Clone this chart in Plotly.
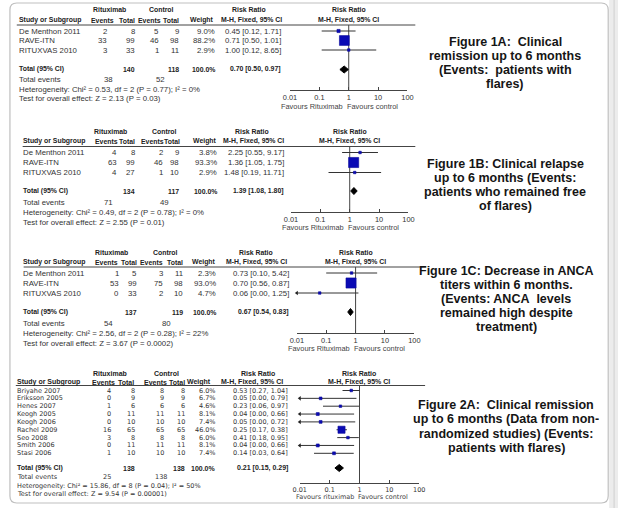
import plotly.graph_objects as go

W, H = 624, 508
FONT = "Liberation Sans, Arial, sans-serif"
FONT2 = "DejaVu Sans, Verdana, sans-serif"

# ---------------- data ----------------
p1a_studies = ["De Menthon 2011", "RAVE-ITN", "RITUXVAS 2010"]
p1a_ev_rtx = [2, 33, 3]
p1a_tot_rtx = [8, 99, 33]
p1a_ev_ctl = [5, 46, 1]
p1a_tot_ctl = [9, 98, 11]
p1a_weight = [9.0, 88.2, 2.9]
p1a_rr = [0.45, 0.71, 1.00]
p1a_lo = [0.12, 0.50, 0.12]
p1a_hi = [1.71, 1.01, 8.65]
p1a_total_n = [140, 118]
p1a_total_rr = [0.70, 0.50, 0.97]
p1a_total_events = [38, 52]
p1a_het = "Heterogeneity: Chi² = 0.53, df = 2 (P = 0.77); I² = 0%"
p1a_test = "Test for overall effect: Z = 2.13 (P = 0.03)"

p1b_studies = ["De Menthon 2011", "RAVE-ITN", "RITUXVAS 2010"]
p1b_ev_rtx = [4, 63, 4]
p1b_tot_rtx = [8, 99, 27]
p1b_ev_ctl = [2, 46, 1]
p1b_tot_ctl = [9, 98, 10]
p1b_weight = [3.8, 93.3, 2.9]
p1b_rr = [2.25, 1.36, 1.48]
p1b_lo = [0.55, 1.05, 0.19]
p1b_hi = [9.17, 1.75, 11.71]
p1b_total_n = [134, 117]
p1b_total_rr = [1.39, 1.08, 1.80]
p1b_total_events = [71, 49]
p1b_het = "Heterogeneity: Chi² = 0.49, df = 2 (P = 0.78); I² = 0%"
p1b_test = "Test for overall effect: Z = 2.55 (P = 0.01)"

p1c_studies = ["De Menthon 2011", "RAVE-ITN", "RITUXVAS 2010"]
p1c_ev_rtx = [1, 53, 0]
p1c_tot_rtx = [5, 99, 33]
p1c_ev_ctl = [3, 75, 2]
p1c_tot_ctl = [11, 98, 10]
p1c_weight = [2.3, 93.0, 4.7]
p1c_rr = [0.73, 0.70, 0.06]
p1c_lo = [0.10, 0.56, 0.00]
p1c_hi = [5.42, 0.87, 1.25]
p1c_total_n = [137, 119]
p1c_total_rr = [0.67, 0.54, 0.83]
p1c_total_events = [54, 80]
p1c_het = "Heterogeneity: Chi² = 2.56, df = 2 (P = 0.28); I² = 22%"
p1c_test = "Test for overall effect: Z = 3.67 (P = 0.0002)"

p2a_studies = ["Briyahe 2007", "Eriksson 2005", "Henes 2007", "Keogh 2005", "Keogh 2006",
               "Rachel 2009", "Seo 2008", "Smith 2006", "Stasi 2006"]
p2a_ev_rtx = [4, 0, 1, 0, 0, 16, 3, 0, 1]
p2a_tot_rtx = [8, 9, 6, 11, 10, 65, 8, 11, 10]
p2a_ev_ctl = [8, 9, 6, 11, 10, 65, 8, 11, 10]
p2a_tot_ctl = [8, 9, 6, 11, 10, 65, 8, 11, 10]
p2a_weight = [6.0, 6.7, 4.6, 8.1, 7.4, 46.0, 6.0, 8.1, 7.4]
p2a_rr = [0.53, 0.05, 0.23, 0.04, 0.05, 0.25, 0.41, 0.04, 0.14]
p2a_lo = [0.27, 0.00, 0.06, 0.00, 0.00, 0.17, 0.18, 0.00, 0.03]
p2a_hi = [1.04, 0.79, 0.97, 0.66, 0.72, 0.38, 0.95, 0.66, 0.64]
p2a_total_n = [138, 138]
p2a_total_rr = [0.21, 0.15, 0.29]
p2a_total_events = [25, 138]
p2a_het = "Heterogeneity: Chi² = 15.86, df = 8 (P = 0.04); I² = 50%"
p2a_test = "Test for overall effect: Z = 9.54 (P = 0.00001)"

tick_vals = [0.01, 0.1, 1, 10, 100]
tick_text = ["0.01", "0.1", "1", "10", "100"]

cap_1a = ["Figure 1A:\u00a0 Clinical", "remission up to 6 months", "(Events:\u00a0 patients with", "flares)"]
cap_1b = ["Figure 1B: Clinical relapse", "up to 6 months (Events:", "patients who remained free", "of flares)"]
cap_1c = ["Figure 1C: Decrease in ANCA", "titers within 6 months.", "(Events: ANCA\u00a0 levels", "remained high despite", "treatment)"]
cap_2a = ["Figure 2A:\u00a0 Clinical remission", "up to 6 months (Data from non-", "randomized studies) (Events:", "patients with flares)"]

# ---------------- layout geometry (pixels) ----------------
panels = [
    dict(studies=p1a_studies, ev1=p1a_ev_rtx, t1=p1a_tot_rtx, ev2=p1a_ev_ctl, t2=p1a_tot_ctl,
         wt=p1a_weight, rr=p1a_rr, lo=p1a_lo, hi=p1a_hi, tn=p1a_total_n, trr=p1a_total_rr,
         tev=p1a_total_events, het=p1a_het, test=p1a_test, cap=cap_1a,
         fav="Favours Rituximab", font=FONT, fs=7.8, hfs=6.9,
         ax0=289, ax1=409, lx0=10, lx1=417, sx=12,
         hdr1=10, hdr2=20, ly=25, row0=31, step=9.5, tot=69.5, tevy=80, hety=89, testy=98,
         axy=90, favy=106.5, grp=[104.5, 158, 247], hcols=[109, 131, 157, 176, 211], hmh=250,
         cols=[102, 131, 155, 176, 212, 280], tevx=[108, 161],
         capx=509, capy=42, capdy=14.1),
    dict(studies=p1b_studies, ev1=p1b_ev_rtx, t1=p1b_tot_rtx, ev2=p1b_ev_ctl, t2=p1b_tot_ctl,
         wt=p1b_weight, rr=p1b_rr, lo=p1b_lo, hi=p1b_hi, tn=p1b_total_n, trr=p1b_total_rr,
         tev=p1b_total_events, het=p1b_het, test=p1b_test, cap=cap_1b,
         fav="Favours Rituximab", font=FONT, fs=7.8, hfs=6.9,
         ax0=290, ax1=410, lx0=16, lx1=417, sx=16.5,
         hdr1=131.5, hdr2=141.5, ly=146.5, row0=152.5, step=10, tot=191, tevy=202.5, hety=212.5,
         testy=222, axy=212, favy=227.5, grp=[106, 161, 250], hcols=[113, 131, 160, 177, 214], hmh=252,
         cols=[112.5, 130.5, 159, 176, 214, 283], tevx=[108, 165],
         capx=509, capy=163.5, capdy=14.3),
    dict(studies=p1c_studies, ev1=p1c_ev_rtx, t1=p1c_tot_rtx, ev2=p1c_ev_ctl, t2=p1c_tot_ctl,
         wt=p1c_weight, rr=p1c_rr, lo=p1c_lo, hi=p1c_hi, tn=p1c_total_n, trr=p1c_total_rr,
         tev=p1c_total_events, het=p1c_het, test=p1c_test, cap=cap_1c,
         fav="Favours Rituximab", font=FONT, fs=7.8, hfs=6.9,
         ax0=296, ax1=416, lx0=17, lx1=428, sx=16.5,
         hdr1=252, hdr2=262, ly=267, row0=273, step=10, tot=312, tevy=323, hety=333,
         testy=343, axy=333, favy=348.5, grp=[107, 162, 254.5], hcols=[113, 133, 159, 180, 213], hmh=255,
         cols=[114, 133, 159, 180, 213, 288], tevx=[108, 167],
         capx=510, capy=271, capdy=14),
    dict(studies=p2a_studies, ev1=p2a_ev_rtx, t1=p2a_tot_rtx, ev2=p2a_ev_ctl, t2=p2a_tot_ctl,
         wt=p2a_weight, rr=p2a_rr, lo=p2a_lo, hi=p2a_hi, tn=p2a_total_n, trr=p2a_total_rr,
         tev=p2a_total_events, het=p2a_het, test=p2a_test, cap=cap_2a,
         fav="Favours rituximab", font=FONT2, fs=6.5, hfs=7.0,
         ax0=299, ax1=421, lx0=9, lx1=427, sx=10,
         hdr1=373, hdr2=382, ly=385.5, row0=390.5, step=7.85, tot=468, tevy=477, hety=485.5,
         testy=493.5, axy=483, favy=496.5, grp=[105, 163, 256], hcols=[110, 130, 163, 182, 208], hmh=250,
         cols=[106, 131, 160, 182, 213, 287], tevx=[106, 163],
         capx=510, capy=405, capdy=14.3),
]

annotations = []
shapes = []
traces = []


def px(x):
    return x / W


def py(y):
    return 1 - y / H


def txt(x, y, s, anchor="left", size=7, bold=False, color="#333333", family=FONT):
    if bold:
        s = "<b>" + s + "</b>"
    annotations.append(dict(x=px(x), y=py(y), xref="paper", yref="paper", text=s,
                            showarrow=False, xanchor=anchor, yanchor="middle",
                            borderpad=0, borderwidth=0,
                            font=dict(size=size, color=color, family=family)))


def fmt_rr(r, l, h):
    return f"{r:.2f} [{l:.2f}, {h:.2f}]"


layout_axes = {}
for i, p in enumerate(panels):
    xa = "x" if i == 0 else f"x{i + 1}"
    axkey = "xaxis" if i == 0 else f"xaxis{i + 1}"
    fs, hfs = p["fs"], p["hfs"]
    fam = p["font"]
    layout_axes[axkey] = dict(
        type="log", range=[-2, 2], domain=[px(p["ax0"]), px(p["ax1"])],
        anchor="free", position=py(p["axy"]), showline=True, linecolor="#444444", linewidth=1,
        ticks="inside", ticklen=3, tickwidth=1, tickcolor="#444444",
        tickvals=tick_vals, ticktext=tick_text, showgrid=False, zeroline=False,
        tickfont=dict(size=min(fs, 7.4), color="#333333", family=fam), fixedrange=True)

    def t(x, y, s, anchor="left"):
        txt(x, y, s, anchor, fs, False, "#333333", fam)

    def hb(x, y, s, anchor="left"):
        txt(x, y, s, anchor, hfs, True, "#222222", FONT)

    # header texts
    for cx, lab in zip(p["grp"][:2], ["Rituximab", "Control"]):
        hb(cx, p["hdr1"], lab, "center")
    hb(p["grp"][2], p["hdr1"], "Risk Ratio", "center")
    fc = (p["ax0"] + p["ax1"]) / 2
    hb(fc, p["hdr1"], "Risk Ratio", "center")
    hb(p["sx"], p["hdr2"], "Study or Subgroup", "left")
    for cx, lab in zip(p["hcols"], ["Events", "Total", "Events", "Total", "Weight"]):
        hb(cx, p["hdr2"], lab, "right")
    hb(p["hmh"], p["hdr2"], "M-H, Fixed, 95% CI", "center")
    hb(fc, p["hdr2"], "M-H, Fixed, 95% CI", "center")
    shapes.append(dict(type="line", xref="paper", yref="paper", x0=px(p["lx0"]), x1=px(p["lx1"]),
                       y0=py(p["ly"]), y1=py(p["ly"]), line=dict(color="#444444", width=1)))

    # study rows
    rows = [p["row0"] + k * p["step"] for k in range(len(p["studies"]))]
    for k, yr in enumerate(rows):
        t(p["sx"], yr, p["studies"][k], "left")
        vals = [str(p["ev1"][k]), str(p["t1"][k]), str(p["ev2"][k]), str(p["t2"][k]),
                f"{p['wt'][k]:.1f}%", fmt_rr(p["rr"][k], p["lo"][k], p["hi"][k])]
        for cx, v in zip(p["cols"], vals):
            t(cx, yr, v, "right")

    # totals
    hb(p["sx"], p["tot"], "Total (95% CI)", "left")
    hb(p["cols"][1], p["tot"], str(p["tn"][0]), "right")
    hb(p["cols"][3], p["tot"], str(p["tn"][1]), "right")
    hb(p["cols"][4], p["tot"], "100.0%", "right")
    hb(p["cols"][5], p["tot"], fmt_rr(*p["trr"]), "right")
    t(p["sx"], p["tevy"], "Total events", "left")
    t(p["tevx"][0], p["tevy"], str(p["tev"][0]), "right")
    t(p["tevx"][1], p["tevy"], str(p["tev"][1]), "right")
    t(p["sx"], p["hety"], p["het"], "left")
    t(p["sx"], p["testy"], p["test"], "left")

    # favours labels
    gap = p["ax0"] + (p["ax1"] - p["ax0"]) / 2 - 4
    txt(gap - 2, p["favy"], p["fav"], "right", min(fs, 7.4), False, "#444444", fam)
    txt(gap + 2, p["favy"], "Favours control", "left", min(fs, 7.4), False, "#444444", fam)

    # caption
    for k, line in enumerate(p["cap"]):
        txt(p["capx"], p["capy"] + k * p["capdy"], line, "center", 12.5, True, "#151515", FONT)

    # ----- forest plot traces -----
    traces.append(go.Scatter(x=[1, 1], y=[p["ly"], p["axy"]], xaxis=xa, yaxis="y", mode="lines",
                             line=dict(color="#444444", width=1), hoverinfo="skip", showlegend=False,
                             cliponaxis=False))
    lx, ly_ = [], []
    left_arrows, right_arrows = [], []
    for k, yr in enumerate(rows):
        a = max(p["lo"][k], 0.01)
        b = min(p["hi"][k], 100)
        lx += [a, b, None]
        ly_ += [yr, yr, None]
        if p["lo"][k] < 0.01:
            left_arrows.append(yr)
        if p["hi"][k] > 100:
            right_arrows.append(yr)
    traces.append(go.Scatter(x=lx, y=ly_, xaxis=xa, yaxis="y", mode="lines",
                             line=dict(color="#333333", width=1), hoverinfo="skip", showlegend=False,
                             cliponaxis=False))
    if left_arrows:
        traces.append(go.Scatter(x=[0.01] * len(left_arrows), y=left_arrows, xaxis=xa, yaxis="y",
                                 mode="markers", marker=dict(symbol="triangle-left", size=4, color="#222222"),
                                 hoverinfo="skip", showlegend=False, cliponaxis=False))
    if right_arrows:
        traces.append(go.Scatter(x=[100] * len(right_arrows), y=right_arrows, xaxis=xa, yaxis="y",
                                 mode="markers", marker=dict(symbol="triangle-right", size=4, color="#222222"),
                                 hoverinfo="skip", showlegend=False, cliponaxis=False))
    sizes = [max(2.5, 1.05 * w ** 0.5) for w in p["wt"]]
    traces.append(go.Scatter(x=p["rr"], y=rows, xaxis=xa, yaxis="y", mode="markers",
                             marker=dict(symbol="square", size=sizes, color="#0a0ab4", opacity=1,
                                         line=dict(width=0.6, color="#0a0a9a")),
                             hoverinfo="skip", showlegend=False, cliponaxis=False))
    r, l, h = p["trr"]
    yt = p["tot"]
    traces.append(go.Scatter(x=[l, r, h, r, l], y=[yt, yt - 3.5, yt, yt + 3.5, yt], xaxis=xa, yaxis="y",
                             mode="lines", fill="toself", fillcolor="#000000",
                             line=dict(color="#000000", width=1), hoverinfo="skip", showlegend=False,
                             cliponaxis=False))


# frame (rounded) and right strip
def P(x, y):
    return f"{px(x):.5f},{py(y):.5f}"


r0 = 7
fx0, fy0, fx1, fy1 = 3, 3, 614, 503
path = (f"M {P(fx0 + r0, fy0)} L {P(fx1 - r0, fy0)} Q {P(fx1, fy0)} {P(fx1, fy0 + r0)} "
        f"L {P(fx1, fy1 - r0)} Q {P(fx1, fy1)} {P(fx1 - r0, fy1)} "
        f"L {P(fx0 + r0, fy1)} Q {P(fx0, fy1)} {P(fx0, fy1 - r0)} "
        f"L {P(fx0, fy0 + r0)} Q {P(fx0, fy0)} {P(fx0 + r0, fy0)} Z")
shapes.insert(0, dict(type="rect", xref="paper", yref="paper", x0=px(615), x1=1, y0=0, y1=1,
                      fillcolor="#ececec", line=dict(width=0), layer="below"))
shapes.insert(1, dict(type="line", xref="paper", yref="paper", x0=px(620), x1=px(620), y0=0, y1=1,
                      line=dict(color="#cfcfcf", width=1), layer="below"))
shapes.insert(2, dict(type="path", xref="paper", yref="paper", path=path,
                      line=dict(color="#bfbfbf", width=1.2), fillcolor="rgba(0,0,0,0)", layer="below"))

fig = go.Figure(data=traces)
fig.update_layout(
    width=W, height=H, margin=dict(l=0, r=0, t=0, b=0),
    paper_bgcolor="#ffffff", plot_bgcolor="rgba(0,0,0,0)",
    showlegend=False, annotations=annotations, shapes=shapes,
    yaxis=dict(domain=[0, 1], range=[H, 0], visible=False, fixedrange=True, anchor="x"),
    **layout_axes,
)
fig.write_html("out.html", config={"displayModeBar": False},
               post_script="document.body.style.margin='0px';document.body.style.overflow='hidden';")
